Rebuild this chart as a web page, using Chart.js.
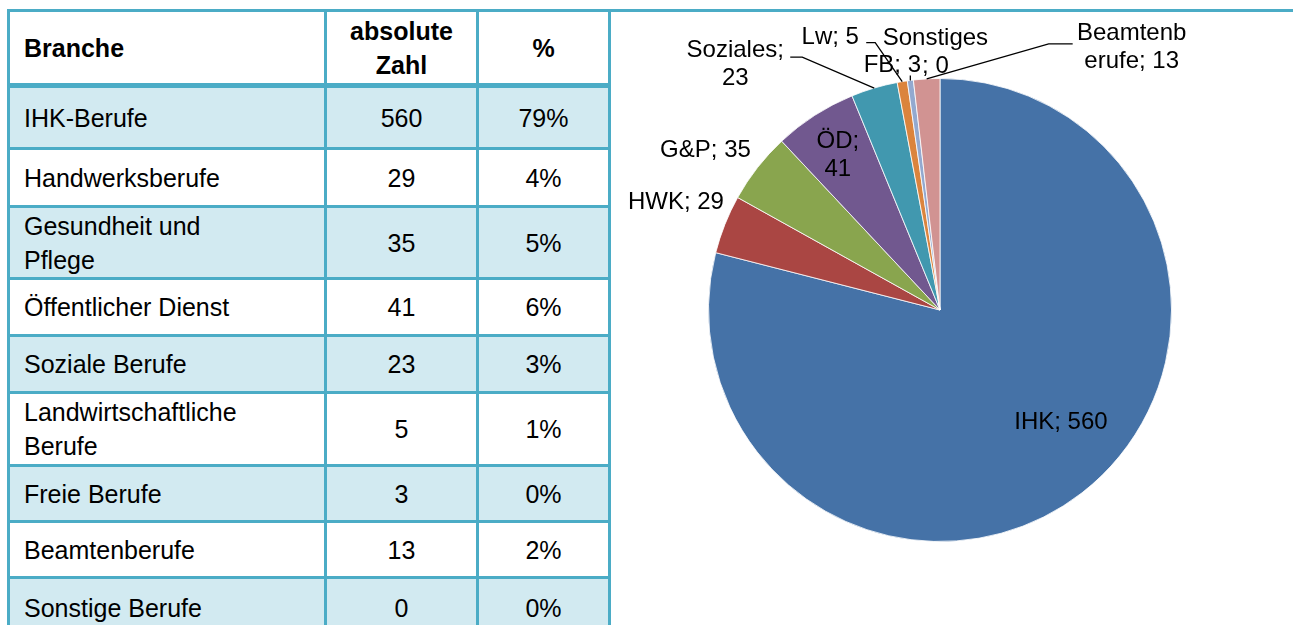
<!DOCTYPE html>
<html lang="de">
<head>
<meta charset="utf-8">
<title>Branchen</title>
<script src="https://cdn.jsdelivr.net/npm/chart.js@4.4.0/dist/chart.umd.min.js"></script>
<style>
    html, body {
        margin: 0;
        padding: 0;
        background: #fff;
        width: 1293px;
        height: 625px;
        overflow: hidden;
        font-family: "Liberation Sans", Arial, sans-serif;
    }
    #topLine {
        position: absolute;
        left: 7px;
        top: 9px;
        width: 1286px;
        height: 3px;
        background: #4BACC6;
    }
    #tabelle {
        position: absolute;
        left: 7px;
        top: 9px;
        border-collapse: separate;
        border-spacing: 0;
        table-layout: fixed;
        border-left: 3px solid #4BACC6;
        border-top: 3px solid #4BACC6;
        font-size: 25px;
        line-height: 34px;
        color: #000;
    }
    #tabelle td, #tabelle th {
        box-sizing: border-box;
        border-right: 3px solid #4BACC6;
        border-bottom: 3px solid #4BACC6;
        padding: 0;
        text-align: center;
        vertical-align: middle;
        white-space: pre-line;
    }
    #tabelle th { font-weight: bold; border-bottom-width: 5px; }
    #tabelle .erste { text-align: left; padding-left: 14px; }
    #tabelle tr.hell td { background: #D2EAF1; }
    #pie {
        position: absolute;
        left: 612px;
        top: 12px;
    }
</style>
</head>
<body>
<div id="topLine"></div>
<table id="tabelle"></table>
<canvas id="pie" width="681" height="613"></canvas>

<script>
// Tabelle
const tableHeader = ['Branche', 'absolute\nZahl', '%'];
const branchen = ['IHK-Berufe', 'Handwerksberufe', 'Gesundheit und\nPflege', 'Öffentlicher Dienst',
    'Soziale Berufe', 'Landwirtschaftliche\nBerufe', 'Freie Berufe', 'Beamtenberufe', 'Sonstige Berufe'];
const anzahl = [560, 29, 35, 41, 23, 5, 3, 13, 0];
const prozent = ['79%', '4%', '5%', '6%', '3%', '1%', '0%', '2%', '0%'];

// Kreisdiagramm (Reihenfolge im Uhrzeigersinn ab 12 Uhr)
const pieLabels = ['IHK', 'HWK', 'G&P', 'ÖD', 'Soziales', 'Lw', 'FB', 'Sonstiges', 'Beamtenberufe'];
const pieValues = [560, 29, 35, 41, 23, 5, 3, 0, 13];
const pieColors = ['#4572A7', '#AA4643', '#89A54E', '#71588F', '#4198AF', '#DB843D', '#93A9CF', '#B9CD96', '#D19392'];

// row heights and column widths of the table
const rowHeights = [76, 62, 58, 72, 57, 57, 73, 56, 56, 60];
const colWidths = [317, 152, 132];

// build table
const tab = document.getElementById('tabelle');
let head = '<tr style="height:' + rowHeights[0] + 'px">';
tableHeader.forEach((h, j) => {
    head += '<th class="' + (j === 0 ? 'erste' : '') + '" style="width:' + colWidths[j] + 'px">' + h + '</th>';
});
tab.innerHTML = head + '</tr>';
branchen.forEach((b, i) => {
    const tr = document.createElement('tr');
    tr.style.height = rowHeights[i + 1] + 'px';
    if (i % 2 === 0) tr.className = 'hell';
    [b, anzahl[i], prozent[i]].forEach((v, j) => {
        const td = document.createElement('td');
        if (j === 0) td.className = 'erste';
        td.textContent = v;
        tr.appendChild(td);
    });
    tab.appendChild(tr);
});

// label placement: offset from the slice's mid point at radius "at", optional line cut and leader
const labelPlacement = [
    {at: 0.711, dx: 20, dy: -18},
    {at: 1, dx: -49, dy: -22},
    {at: 1, dx: -52, dy: -17},
    {at: 0.8, dx: -2, dy: 1, cut: 3},
    {at: 1, dx: -139, dy: -24, cut: 9, leader: [[-84, -31], [-72, -31]]},
    {at: 1, dx: -72, dy: -44, leader: [[-36, -39], [-27, -39]]},
    {at: 1, dx: -18, dy: -15, leader: [[0, -5]]},
    {at: 1, dx: 22, dy: -28, cut: 9},
    {at: 1, dx: 205, dy: -32, cut: 8, leader: [[146, -35], [122, -35]]}
];

const sliceLabels = {
    id: 'sliceLabels',
    afterDatasetsDraw(chart) {
        const ctx = chart.ctx;
        const arcs = chart.getDatasetMeta(0).data;
        ctx.save();
        ctx.font = '24px "Liberation Sans", Arial, sans-serif';
        ctx.fillStyle = '#000';
        ctx.strokeStyle = '#000';
        ctx.lineWidth = 1.3;
        ctx.textAlign = 'center';
        ctx.textBaseline = 'middle';
        arcs.forEach((arc, i) => {
            const p = arc.getProps(['x', 'y', 'startAngle', 'endAngle', 'outerRadius'], true);
            const mid = (p.startAngle + p.endAngle) / 2;
            const pl = labelPlacement[i];
            const ax = p.x + Math.cos(mid) * p.outerRadius * pl.at;
            const ay = p.y + Math.sin(mid) * p.outerRadius * pl.at;
            const text = pieLabels[i] + '; ' + pieValues[i];
            const lines = pl.cut ? [text.slice(0, pl.cut).trim(), text.slice(pl.cut).trim()] : [text];
            const lh = 28;
            const cx = ax + pl.dx;
            const cy = ay + pl.dy;
            lines.forEach((l, k) => {
                ctx.fillText(l, cx, cy + (k - (lines.length - 1) / 2) * lh);
            });
            if (pl.leader) {
                ctx.beginPath();
                pl.leader.forEach((pt, k) => {
                    if (k === 0) ctx.moveTo(ax + pt[0], ay + pt[1]);
                    else ctx.lineTo(ax + pt[0], ay + pt[1]);
                });
                ctx.lineTo(ax, ay);
                ctx.stroke();
            }
        });
        ctx.restore();
    }
};

new Chart(document.getElementById('pie').getContext('2d'), {
    type: 'pie',
    data: {
        labels: pieLabels,
        datasets: [{
            data: pieValues,
            backgroundColor: pieColors,
            borderColor: 'rgba(255,255,255,0.8)',
            borderWidth: 1,
            hoverOffset: 0
        }]
    },
    options: {
        responsive: false,
        animation: false,
        devicePixelRatio: 1,
        layout: {
            padding: {left: 96, right: 121, top: 66, bottom: 83}
        },
        plugins: {
            legend: {display: false},
            tooltip: {enabled: false}
        }
    },
    plugins: [sliceLabels]
});
</script>
</body>
</html>
